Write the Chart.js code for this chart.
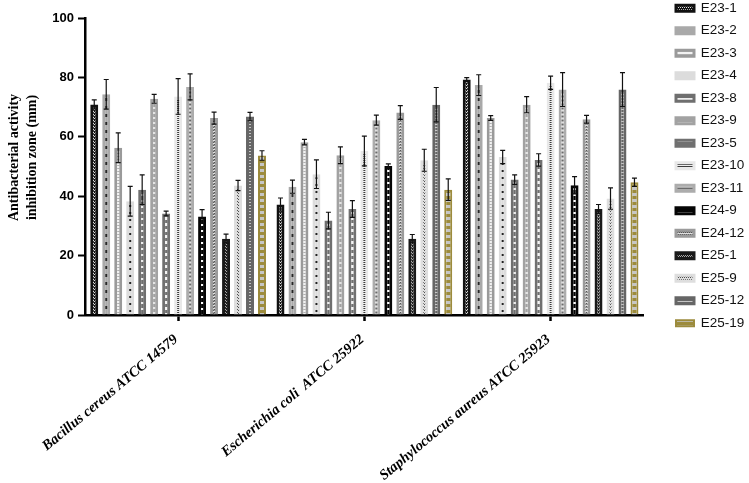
<!DOCTYPE html>
<html><head><meta charset="utf-8">
<script src="https://cdn.jsdelivr.net/npm/chart.js@4.4.1/dist/chart.umd.min.js"></script>
<style>html,body{margin:0;padding:0;background:#fff;} #wrap{width:749px;height:483px;position:relative;}</style>
</head><body><div id="wrap"><canvas id="c" width="749" height="483"></canvas></div>
<script>
// ---- data ----
const categories = ['Bacillus cereus ATCC 14579', 'Escherichia coli  ATCC 25922', 'Staphylococcus aureus ATCC 25923'];
const seriesNames = ['E23-1','E23-2','E23-3','E23-4','E23-8','E23-9','E23-5','E23-10','E23-11','E24-9','E24-12','E25-1','E25-9','E25-12','E25-19'];
const yTicks = [0, 20, 40, 60, 80, 100];

const e23_1  = [70.9, 37.2, 79.3];
const e23_2  = [74.3, 43.2, 77.4];
const e23_3  = [56.3, 58.2, 66.3];
const e23_4  = [38.3, 47.4, 53.2];
const e23_8  = [42.2, 31.8, 45.6];
const e23_9  = [72.8, 53.8, 70.8];
const e23_5  = [34.2, 35.7, 52.2];
const e23_10 = [73.6, 55.2, 78.2];
const e23_11 = [76.8, 65.6, 75.9];
const e24_9  = [33.2, 50.2, 43.7];
const e24_12 = [66.3, 68.2, 65.9];
const e25_1  = [25.7, 25.7, 35.7];
const e25_9  = [43.6, 52.1, 39.2];
const e25_12 = [66.8, 70.8, 75.9];
const e25_19 = [53.7, 42.2, 44.7];

const e23_1Err  = [1.5, 2.2, 0.6];
const e23_2Err  = [5.0, 2.2, 3.5];
const e23_3Err  = [5.0, 0.9, 0.8];
const e23_4Err  = [5.0, 4.8, 2.2];
const e23_8Err  = [5.0, 2.8, 1.6];
const e23_9Err  = [1.5, 2.8, 2.7];
const e23_5Err  = [0.8, 2.8, 2.1];
const e23_10Err = [6.0, 5.0, 2.2];
const e23_11Err = [4.4, 1.7, 5.7];
const e24_9Err  = [2.3, 0.7, 2.9];
const e24_12Err = [2.0, 2.3, 1.3];
const e25_1Err  = [1.5, 1.4, 1.5];
const e25_9Err  = [1.7, 3.7, 3.6];
const e25_12Err = [1.4, 5.8, 5.7];
const e25_19Err = [1.6, 3.6, 1.4];

const seriesValues = [e23_1,e23_2,e23_3,e23_4,e23_8,e23_9,e23_5,e23_10,e23_11,e24_9,e24_12,e25_1,e25_9,e25_12,e25_19];
const seriesErrors = [e23_1Err,e23_2Err,e23_3Err,e23_4Err,e23_8Err,e23_9Err,e23_5Err,e23_10Err,e23_11Err,e24_9Err,e24_12Err,e25_1Err,e25_9Err,e25_12Err,e25_19Err];

// ---- styles (patterns) ----
const canvas = document.getElementById('c');
const mainCtx = canvas.getContext('2d');
function pat(bg, w, h, draw) {
  const t = document.createElement('canvas'); t.width = w; t.height = h;
  const x = t.getContext('2d'); x.fillStyle = bg; x.fillRect(0, 0, w, h); draw(x);
  return mainCtx.createPattern(t, 'repeat');
}
function diag(col) { return x => { x.fillStyle = col; x.fillRect(1,0,1,1); x.fillRect(0,1,1,1); }; }
const styles = [
  { border: '#111111', bw: 3, fill: pat('#111111', 2, 3, diag('#e0e0e0')) },
  { border: '#a9a9a9', bw: 3, fill: pat('#a9a9a9', 2, 8, x => { x.fillStyle='#262626'; x.fillRect(0,2,2,3); }) },
  { border: '#9a9a9a', bw: 3, fill: pat('#f2f2f2', 2, 3, x => { x.fillStyle='#b0b0b0'; x.fillRect(0,0,2,1); }) },
  { border: '#dcdcdc', bw: 3, fill: pat('#dcdcdc', 2, 7, x => { x.fillStyle='#222222'; x.fillRect(0,2,2,2); }) },
  { border: '#6f6f6f', bw: 3, fill: pat('#6f6f6f', 2, 6, x => { x.fillStyle='#eeeeee'; x.fillRect(0,2,2,2); }) },
  { border: '#a2a2a2', bw: 3, fill: pat('#a2a2a2', 2, 5, x => { x.fillStyle='#e4e4e4'; x.fillRect(0,2,2,2); }) },
  { border: '#707070', bw: 3, fill: pat('#707070', 2, 6, x => { x.fillStyle='#f4f4f4'; x.fillRect(0,1,2,3); }) },
  { border: '#e8e8e8', bw: 3, fill: pat('#eeeeee', 2, 2, x => { x.fillStyle='#3c3c3c'; x.fillRect(0,0,2,1); }) },
  { border: '#acacac', bw: 3, fill: pat('#acacac', 2, 4, x => { x.fillStyle='#6a6a6a'; x.fillRect(0,0,2,1); x.fillStyle='#e0e0e0'; x.fillRect(0,2,2,1); }) },
  { border: '#050505', bw: 3, fill: pat('#050505', 2, 6, x => { x.fillStyle='#ffffff'; x.fillRect(0,2,2,2); }) },
  { border: '#9b9b9b', bw: 3, fill: pat('#9b9b9b', 2, 3, x => { x.fillStyle='#555555'; x.fillRect(0,0,1,1); x.fillRect(1,1,1,1); x.fillStyle='#e0e0e0'; x.fillRect(0,2,2,1); }) },
  { border: '#1a1a1a', bw: 3, fill: pat('#1a1a1a', 2, 3, diag('#a8a8a8')) },
  { border: '#dedede', bw: 3, fill: pat('#dedede', 2, 3, diag('#505050')) },
  { border: '#666666', bw: 3, fill: pat('#666666', 2, 3, x => { x.fillStyle='#c4c4c4'; x.fillRect(0,1,2,1); }) },
  { border: '#9c8b3c', bw: 2, fill: pat('#9c8b3c', 4, 6, x => { x.fillStyle='#c6c6c6'; x.fillRect(0,1,4,3); }) }
];

const datasets = seriesNames.map((name, i) => ({
  label: name,
  data: seriesValues[i],
  errors: seriesErrors[i],
  backgroundColor: styles[i].fill,
  borderColor: styles[i].border,
  borderWidth: styles[i].bw,
  borderSkipped: 'start',
  barPercentage: 0.667,
  categoryPercentage: 0.965
}));

// error bars drawn through the y scale
const errorBars = {
  id: 'errorBars',
  afterDatasetsDraw(chart) {
    const ctx = chart.ctx, ys = chart.scales.y;
    ctx.save();
    ctx.strokeStyle = '#111'; ctx.lineWidth = 1.2;
    chart.data.datasets.forEach((ds, di) => {
      const meta = chart.getDatasetMeta(di);
      meta.data.forEach((bar, i) => {
        const v = ds.data[i], e = ds.errors[i];
        const yt = ys.getPixelForValue(v + e), yb = ys.getPixelForValue(v - e);
        ctx.beginPath();
        ctx.moveTo(bar.x, yt); ctx.lineTo(bar.x, yb);
        ctx.moveTo(bar.x - 2.5, yt); ctx.lineTo(bar.x + 2.5, yt);
        ctx.moveTo(bar.x - 2.5, yb); ctx.lineTo(bar.x + 2.5, yb);
        ctx.stroke();
      });
    });
    ctx.restore();
  }
};

// pin the legend to the right-hand column and nudge the y title
const layoutTweaks = {
  id: 'layoutTweaks',
  afterLayout(chart) {
    const l = chart.legend;
    const dx = 667 - l.left, dy = -7.5 - l.top;
    l.left += dx; l.right += dx; l.top += dy; l.bottom += dy;
    const ys = chart.scales.y;
    if (!ys._titlePatched) {
      const orig = ys.drawTitle.bind(ys);
      ys.drawTitle = function () {
        const c = this.ctx; c.save(); c.translate(0, -9); orig(); c.restore();
      };
      ys._titlePatched = true;
    }
  }
};

new Chart(canvas, {
  type: 'bar',
  data: { labels: categories, datasets },
  plugins: [errorBars, layoutTweaks],
  options: {
    responsive: false,
    animation: false,
    layout: { padding: { top: 18, right: 18, left: 0, bottom: 0 } },
    plugins: {
      tooltip: { enabled: false },
      legend: {
        position: 'right',
        align: 'start',
        labels: {
          boxWidth: 18, boxHeight: 6, padding: 9, color: '#111',
          font: { family: 'Liberation Sans', size: 13.5 }
        }
      }
    },
    scales: {
      x: {
        afterFit(s) { s.height = 168; },
        grid: { display: true, offset: false, drawOnChartArea: false, drawTicks: true, tickLength: 6, tickWidth: 2.5, tickColor: '#000' },
        border: { display: true, color: '#000', width: 2.5 },
        ticks: {
          autoSkip: false, minRotation: 40, maxRotation: 40, padding: 10, labelOffset: -2, color: '#000',
          font: { family: 'Liberation Serif', size: 14.5, weight: 'bold', style: 'italic' }
        }
      },
      y: {
        min: 0, max: 100,
        afterFit(s) { s.width = 85; },
        afterBuildTicks(s) { s.ticks = yTicks.map(v => ({ value: v })); },
        grid: { display: true, drawOnChartArea: false, drawTicks: true, tickLength: 7, tickWidth: 2, tickColor: '#000' },
        border: { display: true, color: '#000', width: 2.5 },
        ticks: { padding: 4, color: '#000', font: { family: 'Liberation Sans', size: 13, weight: 'bold' } },
        title: {
          display: true,
          text: ['Antibacterial activity', 'inhibition zone (mm)'],
          color: '#000',
          padding: { top: 5, bottom: 0 },
          font: { family: 'Liberation Serif', size: 14, weight: 'bold', lineHeight: '18px' }
        }
      }
    }
  }
});
</script>
</body></html>
